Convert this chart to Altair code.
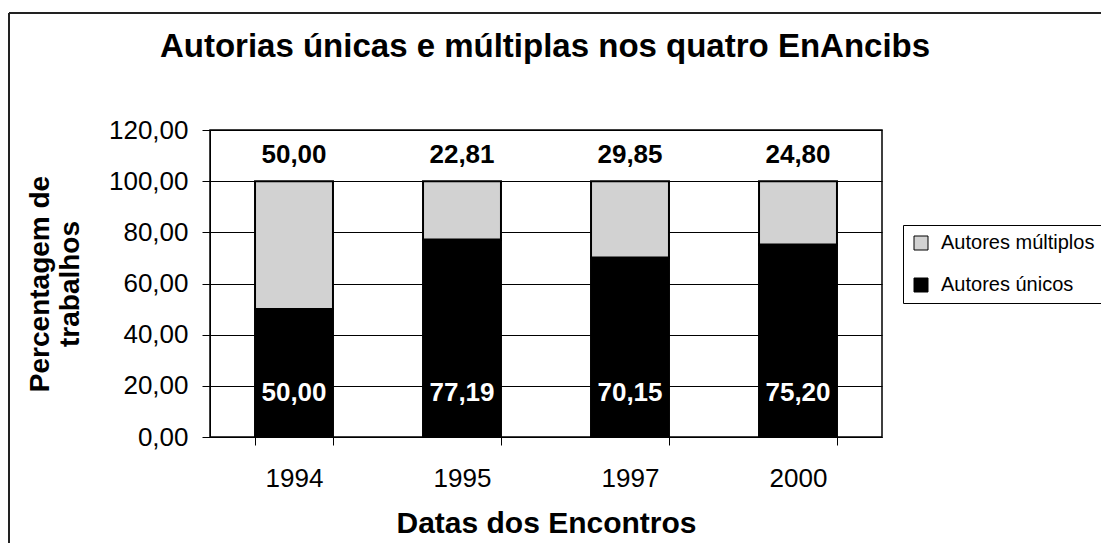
import altair as alt
import pandas as pd

years = ["1994", "1995", "1997", "2000"]
unicos = [50.00, 77.19, 70.15, 75.20]
multiplos = [50.00, 22.81, 29.85, 24.80]
series = ["Autores múltiplos", "Autores únicos"]
colors = ["#d2d2d2", "#000000"]
title_text = "Autorias únicas e múltiplas nos quatro EnAncibs"
y_ticks = [0, 20, 40, 60, 80, 100, 120]

rows = []
for i, yr in enumerate(years):
    rows.append({"year": yr, "serie": series[1], "value": unicos[i], "ord": 0})
    rows.append({"year": yr, "serie": series[0], "value": multiplos[i], "ord": 1})
df = pd.DataFrame(rows)

FONT = "Liberation Sans"

base = alt.Chart(df).transform_calculate(
    lbl="replace(format(datum.value, '.2f'), '.', ',')"
).transform_joinaggregate(total="sum(value)", groupby=["year"])

x_enc = alt.X(
    "year:N",
    sort=years,
    scale=alt.Scale(paddingInner=0.536, paddingOuter=0.268),
    axis=alt.Axis(
        title="Datas dos Encontros",
        labelAngle=0,
        tickBand="extent",
        tickSize=8,
        tickColor="black",
        domainColor="black",
        labelFont=FONT,
        labelFontSize=26,
        labelColor="black",
        labelPadding=20,
        titleFont=FONT,
        titleFontSize=30,
        titleFontWeight="bold",
        titleColor="black",
        titlePadding=17,
    ),
)

bars = base.mark_bar(stroke="black", strokeWidth=2).encode(
    x=x_enc,
    y=alt.Y(
        "value:Q",
        stack="zero",
        scale=alt.Scale(domain=[0, 120], nice=False),
        axis=alt.Axis(
            values=y_ticks,
            title=["Percentagem de", "trabalhos"],
            labelExpr="replace(format(datum.value, '.2f'), '.', ',')",
            grid=True,
            gridColor="black",
            gridWidth=1,
            tickSize=8,
            tickColor="black",
            domainColor="black",
            labelFont=FONT,
            labelFontSize=26,
            labelColor="black",
            labelPadding=14,
            titleFont=FONT,
            titleFontSize=28,
            titleFontWeight="bold",
            titleColor="black",
            titlePadding=24,
            titleLineHeight=30,
        ),
    ),
    color=alt.Color(
        "serie:N",
        scale=alt.Scale(domain=series, range=colors),
        legend=alt.Legend(
            title=None,
            orient="none",
            legendX=693,
            legendY=95,
            strokeColor="black",
            padding=8,
            symbolType="square",
            symbolSize=196,
            symbolStrokeColor="black",
            symbolStrokeWidth=1,
            labelFont=FONT,
            labelFontSize=20,
            labelColor="black",
            labelOffset=10,
            rowPadding=22,
        ),
    ),
    order=alt.Order("ord:Q"),
)

top_labels = base.transform_filter(alt.datum.serie == series[0]).mark_text(
    font=FONT, fontSize=26, fontWeight="bold", color="black", baseline="middle", dy=-26
).encode(x=alt.X("year:N", sort=years), y=alt.Y("total:Q"), text="lbl:N")

bottom_labels = base.transform_filter(alt.datum.serie == series[1]).mark_text(
    font=FONT, fontSize=26, fontWeight="bold", color="white", baseline="middle", dy=-44
).encode(x=alt.X("year:N", sort=years), y=alt.datum(0), text="lbl:N")

one = pd.DataFrame({"t": [title_text]})
title = alt.Chart(one).mark_text(
    font=FONT, fontSize=33, fontWeight="bold", color="black", baseline="alphabetic", align="center"
).encode(x=alt.value(335), y=alt.value(-73), text="t:N")

frame_top = alt.Chart(one).mark_rule(color="#222", strokeWidth=2).encode(
    x=alt.value(-201), x2=alt.value(900), y=alt.value(-117)
)
frame_left = alt.Chart(one).mark_rule(color="#222", strokeWidth=2).encode(
    x=alt.value(-201), y=alt.value(-117), y2=alt.value(420)
)

chart = alt.layer(bars, top_labels, bottom_labels, title, frame_top, frame_left).properties(
    width=672,
    height=307,
    padding={"left": 202, "top": 122, "right": 219, "bottom": 106},
    autosize=alt.AutoSizeParams(type="none"),
    background="white",
).configure_view(stroke="black", strokeWidth=1.5)

chart.save("out.html", embed_options={"renderer": "svg", "actions": False})
